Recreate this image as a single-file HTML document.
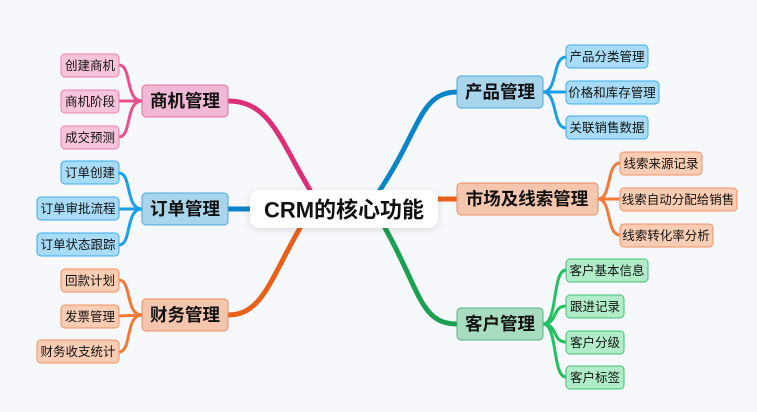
<!DOCTYPE html>
<html><head><meta charset="utf-8"><style>
html,body{margin:0;padding:0;background:#f7f8fb;}
svg{display:block;}
text{font-family:"Liberation Sans","Noto Sans CJK SC",sans-serif;dominant-baseline:central;text-anchor:middle;fill:#111;}
.m{font-size:17.5px;font-weight:bold;}
.l{font-size:12.5px;}
</style></head><body>
<svg width="757" height="412" viewBox="0 0 757 412" xmlns="http://www.w3.org/2000/svg">
<defs><filter id="sh" x="-20%" y="-40%" width="140%" height="180%"><feDropShadow dx="0" dy="2" stdDeviation="4" flood-color="#000" flood-opacity="0.12"/></filter></defs>
<g fill="none" stroke-linecap="round">
<path d="M310 190 C280 140, 270 101, 228 101" stroke="#dd2f78" stroke-width="5"/>
<path d="M252 209 L228 209" stroke="#0a86c8" stroke-width="5"/>
<path d="M300 228 C270 280, 262 315, 228 315" stroke="#e8601a" stroke-width="5"/>
<path d="M380 190 C420 130, 420 92, 457 92" stroke="#0a86c8" stroke-width="5"/>
<path d="M438 199 L457 199" stroke="#e8601a" stroke-width="5"/>
<path d="M385 228 C420 290, 420 324, 457 324" stroke="#1aa050" stroke-width="5"/>
<g stroke="#e8508e" stroke-width="3">
<path d="M142 101 C125 101,132 65,119 65"/><path d="M142 101 L119 101"/><path d="M142 101 C125 101,132 137,119 137"/></g>
<g stroke="#1aa0e8" stroke-width="3">
<path d="M142 209 C125 209,132 173,119 173"/><path d="M142 209 L119 209"/><path d="M142 209 C125 209,132 245,119 245"/></g>
<g stroke="#f07a36" stroke-width="3">
<path d="M142 315 C125 315,132 280,119 280"/><path d="M142 315 L119 316"/><path d="M142 315 C125 315,132 352,119 352"/></g>
<g stroke="#1aa0e8" stroke-width="3">
<path d="M543 92 C558 92,552 57,566 57"/><path d="M543 92 L566 92"/><path d="M543 92 C558 92,552 128,566 128"/></g>
<g stroke="#f07a36" stroke-width="3">
<path d="M598 199 C612 199,606 163,620 163"/><path d="M598 199 L620 199"/><path d="M598 199 C612 199,606 235,620 235"/></g>
<g stroke="#22c060" stroke-width="3">
<path d="M543 324 C558 324,552 270,566 270"/><path d="M543 324 C558 324,552 306,566 306"/><path d="M543 324 C558 324,552 342,566 342"/><path d="M543 324 C558 324,552 377,566 377"/></g>
</g>
<rect x="250" y="190" width="188" height="38" rx="9" fill="#fff" filter="url(#sh)"/>
<text x="344" y="210" style="font-size:22px;font-weight:bold">CRM的核心功能</text>
<rect x="142" y="85" width="86" height="32" rx="4" fill="#f0b8d4" stroke="#e0709f"/><text class="m" x="185" y="101">商机管理</text>
<rect x="142" y="193" width="86" height="32" rx="4" fill="#a8d4ec" stroke="#4aa8dc"/><text class="m" x="185" y="209">订单管理</text>
<rect x="142" y="299" width="86" height="32" rx="4" fill="#f5c6ae" stroke="#ec8c5c"/><text class="m" x="185" y="315">财务管理</text>
<rect x="457" y="76" width="86" height="32" rx="4" fill="#a8d4ec" stroke="#4aa8dc"/><text class="m" x="500" y="92">产品管理</text>
<rect x="457" y="183" width="141" height="32" rx="4" fill="#f5c6ae" stroke="#ec8c5c"/><text class="m" x="527" y="199">市场及线索管理</text>
<rect x="457" y="308" width="86" height="32" rx="4" fill="#a8dcc0" stroke="#50b880"/><text class="m" x="500" y="324">客户管理</text>
<g stroke-width="1">
<rect x="61" y="54" width="58" height="23" rx="4" fill="#f7c4dc" stroke="#ea7fb0"/><text class="l" x="90" y="66">创建商机</text>
<rect x="61" y="90" width="58" height="23" rx="4" fill="#f7c4dc" stroke="#ea7fb0"/><text class="l" x="90" y="102">商机阶段</text>
<rect x="61" y="126" width="58" height="23" rx="4" fill="#f7c4dc" stroke="#ea7fb0"/><text class="l" x="90" y="138">成交预测</text>
<rect x="61" y="161" width="58" height="23" rx="4" fill="#a8dcf6" stroke="#3aacec"/><text class="l" x="90" y="173">订单创建</text>
<rect x="37" y="197" width="82" height="23" rx="4" fill="#a8dcf6" stroke="#3aacec"/><text class="l" x="78" y="209">订单审批流程</text>
<rect x="37" y="233" width="82" height="23" rx="4" fill="#a8dcf6" stroke="#3aacec"/><text class="l" x="78" y="245">订单状态跟踪</text>
<rect x="61" y="269" width="58" height="23" rx="4" fill="#f9cdb4" stroke="#f29060"/><text class="l" x="90" y="281">回款计划</text>
<rect x="61" y="305" width="58" height="23" rx="4" fill="#f9cdb4" stroke="#f29060"/><text class="l" x="90" y="317">发票管理</text>
<rect x="37" y="340" width="82" height="23" rx="4" fill="#f9cdb4" stroke="#f29060"/><text class="l" x="78" y="352">财务收支统计</text>
<rect x="566" y="45" width="82" height="23" rx="4" fill="#a8dcf6" stroke="#3aacec"/><text class="l" x="607" y="57">产品分类管理</text>
<rect x="566" y="81" width="93" height="23" rx="4" fill="#a8dcf6" stroke="#3aacec"/><text class="l" x="612" y="93">价格和库存管理</text>
<rect x="566" y="116" width="82" height="23" rx="4" fill="#a8dcf6" stroke="#3aacec"/><text class="l" x="607" y="128">关联销售数据</text>
<rect x="620" y="152" width="82" height="23" rx="4" fill="#f9cdb4" stroke="#f29060"/><text class="l" x="661" y="164">线索来源记录</text>
<rect x="620" y="188" width="117" height="23" rx="4" fill="#f9cdb4" stroke="#f29060"/><text class="l" x="678" y="200">线索自动分配给销售</text>
<rect x="620" y="224" width="93" height="23" rx="4" fill="#f9cdb4" stroke="#f29060"/><text class="l" x="666" y="236">线索转化率分析</text>
<rect x="566" y="259" width="82" height="23" rx="4" fill="#b0ecc8" stroke="#40c070"/><text class="l" x="607" y="271">客户基本信息</text>
<rect x="566" y="295" width="58" height="23" rx="4" fill="#b0ecc8" stroke="#40c070"/><text class="l" x="595" y="307">跟进记录</text>
<rect x="566" y="331" width="58" height="23" rx="4" fill="#b0ecc8" stroke="#40c070"/><text class="l" x="595" y="343">客户分级</text>
<rect x="566" y="366" width="58" height="23" rx="4" fill="#b0ecc8" stroke="#40c070"/><text class="l" x="595" y="378">客户标签</text>
</g>
</svg>
</body></html>
